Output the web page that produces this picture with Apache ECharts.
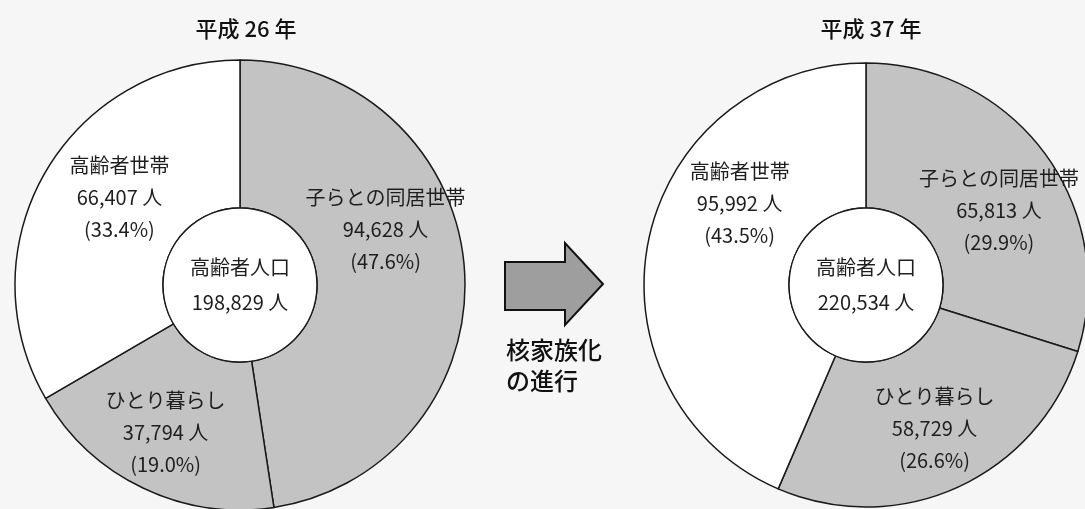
<!DOCTYPE html>
<html>
<head>
    <meta charset="utf-8" />
    <title>高齢者世帯の推移</title>
    <script src="https://cdn.jsdelivr.net/npm/echarts@6/dist/echarts.min.js"></script>
    <style type="text/css">
        html, body {
            margin: 0;
            padding: 0;
            width: 100%;
            height: 100%;
            background-color: #f6f6f6;
            overflow: hidden;
        }

        #charts {
            width: 1085px;
            height: 509px;
        }
    </style>
</head>
<body>
    <div id="charts"></div>
    <script type="text/javascript">
        // 区分
        var categories = ['子らとの同居世帯', 'ひとり暮らし', '高齢者世帯'];
        // 平成26年 / 平成37年 (人)
        var valuesH26 = [94628, 37794, 66407];
        var valuesH37 = [65813, 58729, 95992];
        // 構成比 (%) as printed
        var pctH26 = ['47.6', '19.0', '33.4'];
        var pctH37 = ['29.9', '26.6', '43.5'];
        var yearTitles = ['平成 26 年', '平成 37 年'];
        var centerName = '高齢者人口';
        var arrowText = '核家族化\nの進行';

        var sliceColors = ['#c3c3c3', '#c3c3c3', '#ffffff'];
        var FONT = '"Noto Sans CJK JP", "Noto Sans", sans-serif';

        // label nudges from the default inside position (dx, dy)
        var nudgeH26 = [[-8, -44], [-8, 8], [13, -11]];
        var nudgeH37 = [[10, 16], [5, 5], [23, -51]];

        var fmt = function (n) {
            return String(n).replace(/\B(?=(\d{3})+(?!\d))/g, ',');
        };
        var sum = function (arr) {
            return arr.reduce(function (a, b) { return a + b; }, 0);
        };

        var buildData = function (values, pcts) {
            return categories.map(function (name, i) {
                return {
                    name: name,
                    value: values[i],
                    pct: pcts[i],
                    itemStyle: { color: sliceColors[i] }
                };
            });
        };

        var ringSeries = function (values, pcts, center, radius, nudge) {
            return {
                type: 'pie',
                center: center,
                radius: [77, radius],
                startAngle: 90,
                clockwise: true,
                silent: true,
                animation: false,
                itemStyle: { borderColor: '#1a1a1a', borderWidth: 1.5 },
                label: {
                    show: true,
                    position: 'inside',
                    fontFamily: FONT,
                    fontSize: 20,
                    lineHeight: 32,
                    color: '#1e1e1e',
                    formatter: function (p) {
                        return p.name + '\n' + fmt(p.value) + ' 人\n(' + p.data.pct + '%)';
                    }
                },
                labelLine: { show: false },
                labelLayout: function (p) {
                    return { dx: nudge[p.dataIndex][0], dy: nudge[p.dataIndex][1] };
                },
                data: buildData(values, pcts)
            };
        };

        var holeSeries = function (values, center) {
            return {
                type: 'pie',
                center: center,
                radius: [0, 77],
                silent: true,
                animation: false,
                itemStyle: { color: '#ffffff', borderColor: '#1a1a1a', borderWidth: 1.5 },
                label: {
                    show: true,
                    position: 'center',
                    fontFamily: FONT,
                    fontSize: 20,
                    lineHeight: 35,
                    color: '#1e1e1e',
                    formatter: centerName + '\n' + fmt(sum(values)) + ' 人'
                },
                labelLine: { show: false },
                data: [{ name: centerName, value: sum(values) }]
            };
        };

        var ChartOption = {
            backgroundColor: '#f6f6f6',
            animation: false,
            title: [
                {
                    text: yearTitles[0], left: 241, top: 13, textAlign: 'center',
                    textStyle: { fontFamily: FONT, fontSize: 22, fontWeight: 500, color: '#111' }
                },
                {
                    text: yearTitles[1], left: 866, top: 13, textAlign: 'center',
                    textStyle: { fontFamily: FONT, fontSize: 22, fontWeight: 500, color: '#111' }
                }
            ],
            graphic: [
                {
                    type: 'polygon',
                    shape: {
                        points: [[505, 262], [565, 262], [565, 243], [603, 284], [565, 325], [565, 310], [505, 310]]
                    },
                    style: { fill: '#9e9e9e', stroke: '#111', lineWidth: 2 }
                },
                {
                    type: 'text',
                    left: 506,
                    top: 334,
                    style: {
                        text: arrowText,
                        font: '500 24px ' + FONT,
                        lineHeight: 31,
                        fill: '#111'
                    }
                }
            ],
            series: [
                ringSeries(valuesH26, pctH26, [240, 285], 225, nudgeH26),
                holeSeries(valuesH26, [240, 285]),
                ringSeries(valuesH37, pctH37, [866, 285], 222, nudgeH37),
                holeSeries(valuesH37, [866, 285])
            ]
        };

        var myChart = echarts.init(document.getElementById('charts'), null, { renderer: 'canvas' });
        myChart.setOption(ChartOption, true);
        window.onresize = myChart.resize;
    </script>
</body>
</html>
